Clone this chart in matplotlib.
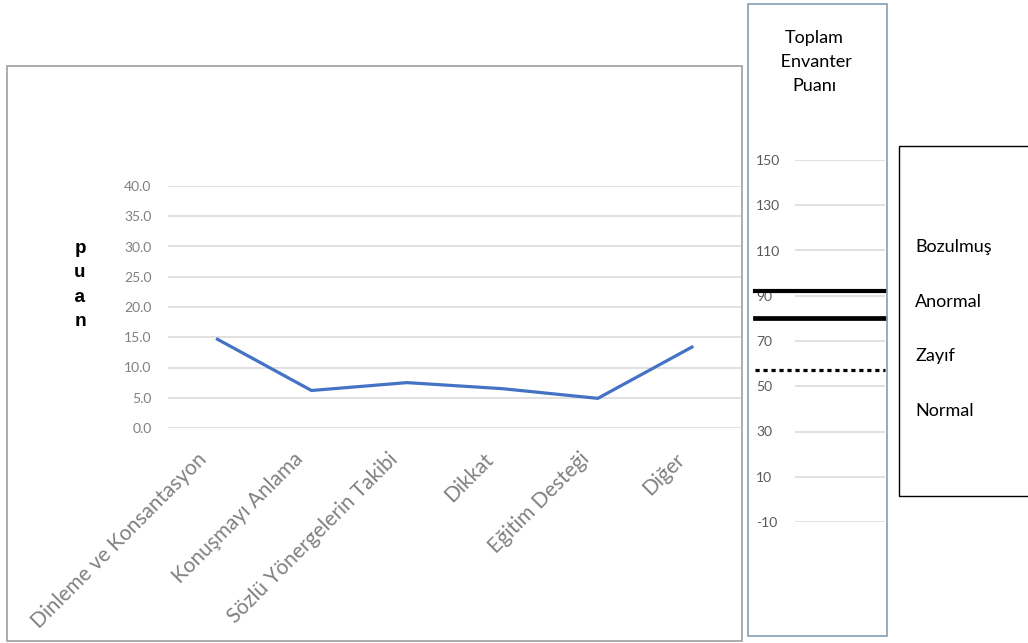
import matplotlib.pyplot as plt
from matplotlib.patches import Rectangle
from matplotlib.transforms import ScaledTranslation

plt.rcParams['font.family'] = ['Lato', 'DejaVu Sans']
plt.rcParams['axes.unicode_minus'] = False

# veriler
kategoriler = ["Dinleme ve Konsantasyon", "Konuşmayı Anlama", "Sözlü Yönergelerin Takibi",
               "Dikkat", "Eğitim Desteği", "Diğer"]
puanlar = [14.8, 6.2, 7.5, 6.5, 4.9, 13.5]
sol_yticks = [0, 5, 10, 15, 20, 25, 30, 35, 40]

toplam_yticks = [-10, 10, 30, 50, 70, 90, 110, 130, 150]
esik_kalin = [92, 80]
esik_noktali = 57
seviyeler = ["Bozulmuş", "Anormal", "Zayıf", "Normal"]

W, H = 1028, 643
fig = plt.figure(figsize=(W / 100, H / 100), dpi=100)


def fx(px):
    return px / W


def fy(py):
    return 1 - py / H


# çerçeveler
fig.patches.append(Rectangle((fx(7), fy(641)), fx(735), 575 / H, transform=fig.transFigure,
                             fill=False, edgecolor="#a6a6a6", lw=1.3))
fig.patches.append(Rectangle((fx(748), fy(636)), fx(139), 632 / H, transform=fig.transFigure,
                             fill=False, edgecolor="#8ea7bd", lw=1.3))
fig.patches.append(Rectangle((fx(899), fy(496)), fx(140), 350 / H, transform=fig.transFigure,
                             fill=False, edgecolor="black", lw=1.0))

# sol grafik
ax = fig.add_axes([fx(168.3), fy(428), fx(572.7), 242 / H])
x = list(range(len(kategoriler)))
ax.plot(x, puanlar, color="#4472c4", lw=2.3, solid_capstyle="butt")
ax.set_xlim(-0.5, len(kategoriler) - 0.5)
ax.set_ylim(0, 40)
ax.set_yticks(sol_yticks)
ax.set_yticklabels([f"{v:.1f}" for v in sol_yticks])
ax.grid(axis="y", color="#d9d9d9", lw=1.1)
ax.set_axisbelow(True)
for s in ax.spines.values():
    s.set_visible(False)
ax.tick_params(axis="y", length=0, pad=12, labelsize=10, labelcolor="#808080")
ax.set_xticks(x)
ax.set_xticklabels(kategoriler, rotation=45, ha="right", va="top", rotation_mode="anchor",
                   fontsize=15, color="#808080")
ax.tick_params(axis="x", length=0, pad=15)
kaydir = ScaledTranslation(-0.19, 0, fig.dpi_scale_trans)
for lab in ax.get_xticklabels():
    lab.set_transform(lab.get_transform() + kaydir)

fig.text(fx(80), fy(285), "p\nu\na\nn", ha="center", va="center",
         family=["Liberation Mono", "DejaVu Sans Mono"],
         fontweight="bold", fontsize=14, linespacing=1.55)

# orta panel
ax2 = fig.add_axes([fx(795), fy(522), fx(90), 362 / H])
ax2.set_ylim(-10, 150)
ax2.set_xlim(0, 1)
ax2.set_yticks(toplam_yticks)
ax2.set_xticks([])
ax2.grid(axis="y", color="#d9d9d9", lw=1.1)
for s in ax2.spines.values():
    s.set_visible(False)
ax2.tick_params(axis="y", length=0, pad=28, labelsize=10, labelcolor="#595959")
for lab in ax2.get_yticklabels():
    lab.set_ha("left")
for v, lw in zip(esik_kalin, [3.0, 3.4]):
    ax2.axhline(v, xmin=-0.445, xmax=1.0, color="black", lw=lw, clip_on=False)
ax2.axhline(esik_noktali, xmin=-0.445, xmax=1.0, color="black", lw=2.3,
            linestyle=(0, (1.3, 1.2)), clip_on=False)

fig.text(fx(814), fy(62), "Toplam\n Envanter\nPuanı", ha="center", va="center",
         fontsize=13, linespacing=1.65)

# sağ panel
for i, s in enumerate(seviyeler):
    fig.text(fx(915), fy(247 + i * 54.7), s, ha="left", va="center", fontsize=13)

fig.savefig("out.png", dpi=100)
